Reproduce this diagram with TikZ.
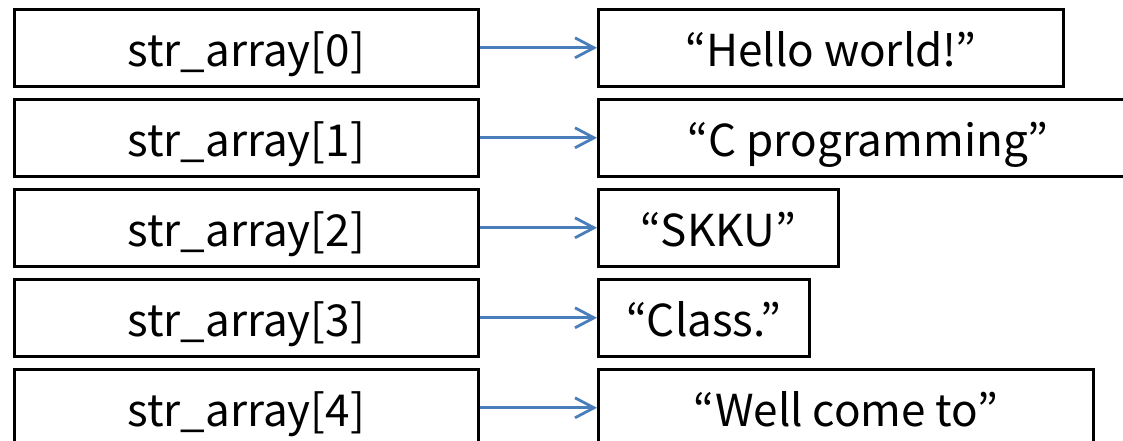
\documentclass[tikz,border=0pt]{standalone}
\usepackage{fontspec}
\setmainfont{Noto Sans CJK KR}
\usetikzlibrary{arrows.meta}
\definecolor{arrowblue}{RGB}{74,126,187}
\begin{document}
\begin{tikzpicture}[x=1pt,y=-1pt,
  box/.style={draw=black, line width=2.6pt, minimum height=77pt, inner sep=0pt, text height=37pt, text depth=0pt, anchor=north west, font=\fontsize{44}{50}\selectfont},
  ptr/.style={draw=arrowblue, line width=2.8pt, -{Straight Barb[length=19pt,width=20pt,line width=2.8pt]}}]
\useasboundingbox (0,0) rectangle (1123,441);
\clip (0,0) rectangle (1123,441);
\foreach \i/\w/\t in {0/465/{“Hello world!”},1/540/{“C programming”},2/240/{“SKKU”},3/211/{“Class.”},4/495/{“Well come to”}}{
  \node[box, minimum width=464pt] (L\i) at (13,{8+90*\i}) {str\_array[\i]};
  \node[box, minimum width=\w pt] (R\i) at (597,{8+90*\i}) {\t};
  \draw[ptr] (L\i.east) -- (R\i.west);
}
\end{tikzpicture}
\end{document}
